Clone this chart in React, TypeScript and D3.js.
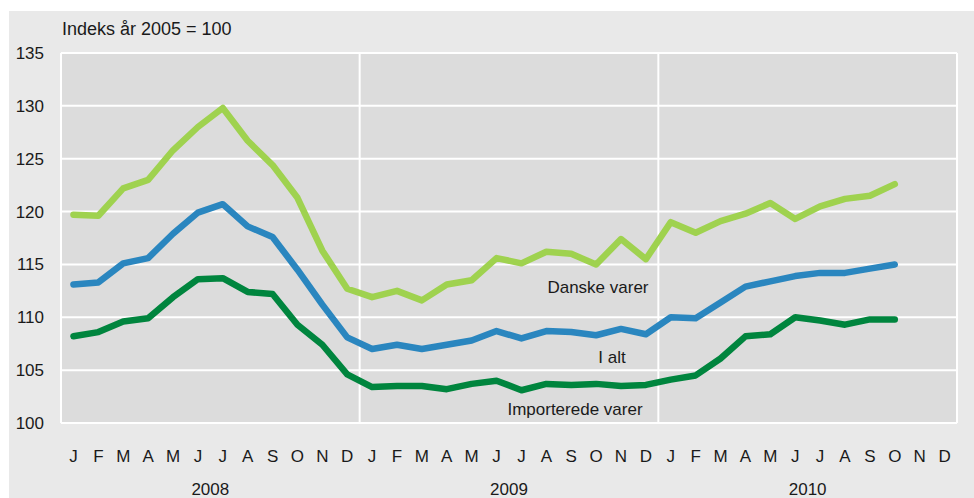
import React from "react";
import * as d3 from "d3";

const months = ["J", "F", "M", "A", "M", "J", "J", "A", "S", "O", "N", "D"];
const years = ["2008", "2009", "2010"];
const yTicks = [100, 105, 110, 115, 120, 125, 130, 135];

// index values, Jan 2008 .. Oct 2010
const danske = [
  119.7, 119.6, 122.2, 123.0, 125.8, 128.0, 129.8, 126.7, 124.4, 121.3, 116.3, 112.7,
  111.9, 112.5, 111.6, 113.1, 113.5, 115.6, 115.1, 116.2, 116.0, 115.0, 117.4, 115.5,
  119.0, 118.0, 119.1, 119.8, 120.8, 119.3, 120.5, 121.2, 121.5, 122.6,
];
const iAlt = [
  113.1, 113.3, 115.1, 115.6, 117.9, 119.9, 120.7, 118.6, 117.6, 114.5, 111.2, 108.1,
  107.0, 107.4, 107.0, 107.4, 107.8, 108.7, 108.0, 108.7, 108.6, 108.3, 108.9, 108.4,
  110.0, 109.9, 111.4, 112.9, 113.4, 113.9, 114.2, 114.2, 114.6, 115.0,
];
const importerede = [
  108.2, 108.6, 109.6, 109.9, 111.9, 113.6, 113.7, 112.4, 112.2, 109.3, 107.4, 104.6,
  103.4, 103.5, 103.5, 103.2, 103.7, 104.0, 103.1, 103.7, 103.6, 103.7, 103.5, 103.6,
  104.1, 104.5, 106.1, 108.2, 108.4, 110.0, 109.7, 109.3, 109.8, 109.8,
];

const series = [
  { name: "Danske varer", values: danske, color: "#9fd24f", lx: 598, ly: 287 },
  { name: "I alt", values: iAlt, color: "#2a86bf", lx: 612, ly: 357 },
  { name: "Importerede varer", values: importerede, color: "#00853e", lx: 575, ly: 409 },
];

const W = 974;
const H = 498;
const left = 61;
const right = 957;
const top = 53;
const bottom = 423;
const font = "'Liberation Sans', Arial, sans-serif";

export default function App() {
  const nMonths = months.length * years.length;
  const x = d3.scaleLinear().domain([0, nMonths]).range([left, right]);
  const y = d3.scaleLinear().domain([100, 135]).range([bottom, top]);
  const line = d3
    .line<number>()
    .x((d, i) => x(i + 0.5))
    .y((d) => y(d));

  const allMonths = years.flatMap(() => months);

  return (
    <svg width={W} height={H} style={{ position: "absolute", left: 0, top: 0 }} fontFamily={font}>
      <rect x={0} y={0} width={W} height={H} fill="#fff" />
      <rect x={9} y={11} width={W - 9} height={H - 11} fill="#e9e9e9" />
      <rect x={left} y={top} width={right - left} height={bottom - top} fill="#dcdcdc" />

      {yTicks.map((t) => (
        <g key={t}>
          <line x1={left} x2={right} y1={y(t)} y2={y(t)} stroke="#fff" strokeWidth={2} />
          <text x={44} y={y(t)} dy="0.35em" textAnchor="end" fontSize={17} fill="#1a1a1a">
            {t}
          </text>
        </g>
      ))}
      {d3.range(0, years.length + 1).map((k) => (
        <line
          key={k}
          x1={x(k * 12)}
          x2={x(k * 12)}
          y1={top}
          y2={bottom}
          stroke="#fff"
          strokeWidth={2}
        />
      ))}

      {series.map((s) => (
        <path
          key={s.name}
          d={line(s.values) || ""}
          fill="none"
          stroke={s.color}
          strokeWidth={6.5}
          strokeLinejoin="round"
          strokeLinecap="round"
        />
      ))}
      {series.map((s) => (
        <text key={s.name} x={s.lx} y={s.ly} dy="0.35em" textAnchor="middle" fontSize={17} fill="#1a1a1a">
          {s.name}
        </text>
      ))}

      {allMonths.map((m, i) => (
        <text key={i} x={x(i + 0.5)} y={456} dy="0.35em" textAnchor="middle" fontSize={17} fill="#1a1a1a">
          {m}
        </text>
      ))}
      {years.map((yr, k) => (
        <text key={yr} x={x(k * 12 + 6)} y={489} dy="0.35em" textAnchor="middle" fontSize={17} fill="#1a1a1a">
          {yr}
        </text>
      ))}

      <text x={62} y={29} dy="0.35em" fontSize={18} fill="#1a1a1a">
        Indeks år 2005 = 100
      </text>
    </svg>
  );
}
